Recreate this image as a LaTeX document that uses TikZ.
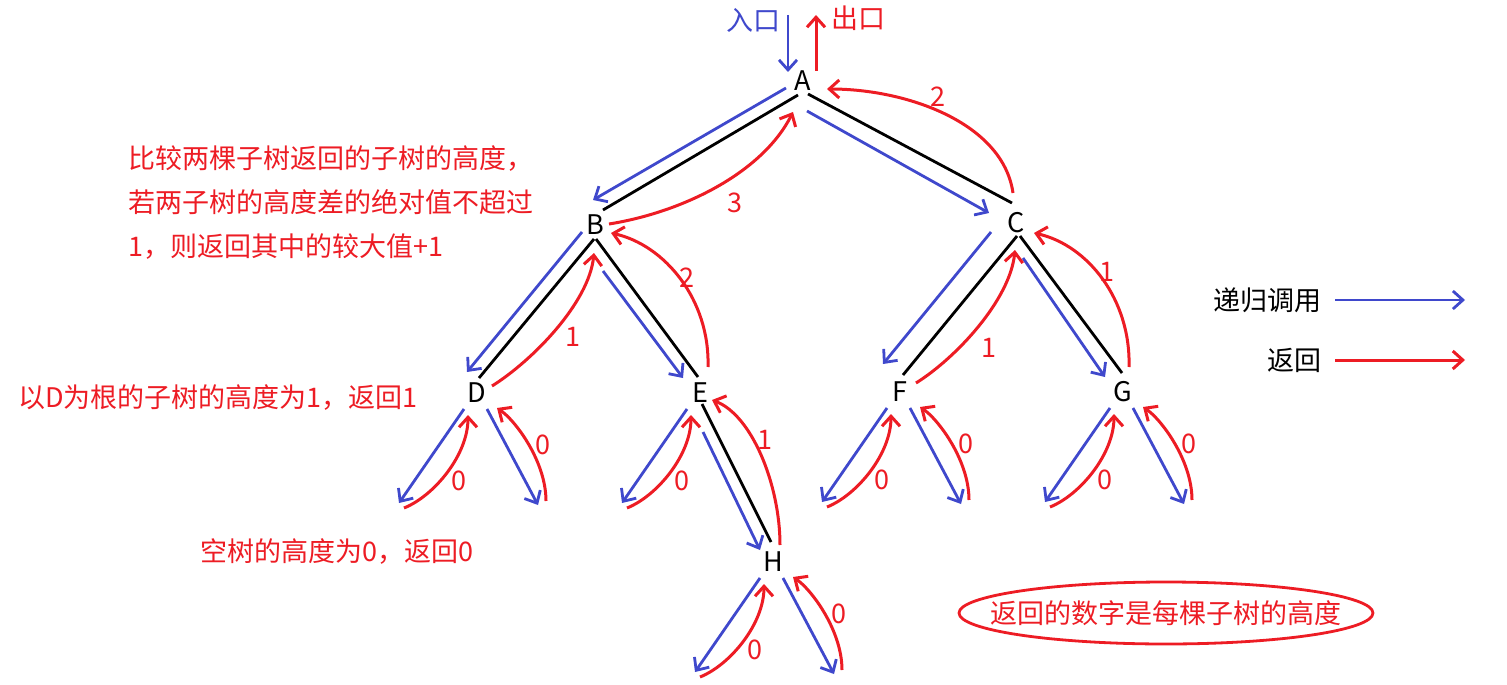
\documentclass[tikz,border=0pt]{standalone}
\usepackage{fontspec}
\setmainfont{Noto Sans CJK SC}
\usepackage{tikz}
\usetikzlibrary{arrows.meta,shapes.geometric}
\definecolor{CallBlue}{HTML}{3F48CC}
\definecolor{RetRed}{HTML}{ED1C24}

\tikzset{
  vert/.style={inner sep=0pt, font=\fontsize{27}{30}\selectfont},
  edge/.style={draw=black, line width=2.8pt},
  call/.style={draw=CallBlue, line width=2.8pt, -{Straight Barb[length=10pt,width=18pt]}},
  ret/.style={draw=RetRed, line width=3pt, -{Straight Barb[length=10pt,width=18pt]}},
  num/.style={inner sep=0pt, text=RetRed, font=\fontsize{27}{30}\selectfont},
  note/.style={inner sep=0pt, text=RetRed, font=\fontsize{27}{44}\selectfont, align=left}
}

\begin{document}
\begin{tikzpicture}[x=1pt,y=-1pt]
  \useasboundingbox (0,0) rectangle (1507,685);

  % tree nodes
  \node[vert] (A) at (803,81) {A};
  \node[vert] (B) at (595,225) {B};
  \node[vert] (C) at (1016,223) {C};
  \node[vert] (D) at (477,393) {D};
  \node[vert] (E) at (700,393) {E};
  \node[vert] (F) at (900,392) {F};
  \node[vert] (G) at (1123,392) {G};
  \node[vert] (H) at (773,562) {H};

  % tree edges
  \draw[edge] ([shift={(-5,14)}]A.center) -- ([shift={(8,-15)}]B.center);
  \draw[edge] ([shift={(5,13)}]A.center) -- ([shift={(-4,-20)}]C.center);
  \draw[edge] ([shift={(-1,14)}]B.center) -- ([shift={(2,-15)}]D.center);
  \draw[edge] ([shift={(1,14)}]B.center) -- ([shift={(-2,-16)}]E.center);
  \draw[edge] ([shift={(1,13)}]C.center) -- ([shift={(3,-17)}]F.center);
  \draw[edge] ([shift={(4,13)}]C.center) -- ([shift={(-1,-19)}]G.center);
  \draw[edge] ([shift={(2,11)}]E.center) -- ([shift={(-2,-20)}]H.center);

  % entry and exit
  \coordinate (in) at (788,15);
  \coordinate (out) at (816,15);
  \node[inner sep=0pt, text=CallBlue, font=\fontsize{27}{30}\selectfont] (inlab) at (753,20) {入口};
  \node[inner sep=0pt, text=RetRed, font=\fontsize{27}{30}\selectfont] (outlab) at (858,18) {出口};
  \draw[call] (in) -- ([shift={(-15,-9)}]A.center);
  \draw[ret] ([shift={(13,-10)}]A.center) -- (out);

  % recursive calls
  \draw[call] ([shift={(-17,7)}]A.center) -- ([shift={(-2,-25)}]B.center);
  \draw[call] ([shift={(4,30)}]A.center) -- ([shift={(-27,-10)}]C.center);
  \draw[call] ([shift={(-13,7)}]B.center) -- ([shift={(-10,-21)}]D.center);
  \draw[call] ([shift={(8,46)}]B.center) -- ([shift={(-17,-15)}]E.center);
  \draw[call] ([shift={(-25,9)}]C.center) -- ([shift={(-17,-28)}]F.center);
  \draw[call] ([shift={(7,35)}]C.center) -- ([shift={(-18,-15)}]G.center);
  \draw[call] ([shift={(3,39)}]E.center) -- ([shift={(-13,-12)}]H.center);

  % returns
  \draw[ret] ([shift={(14,-1)}]B.center) .. controls +(75,-12) and +(-30,60) .. ([shift={(-10,31)}]A.center);
  \draw[ret] ([shift={(-3,-30)}]C.center) .. controls +(-10,-70) and +(80,0) .. ([shift={(24,8)}]A.center);
  \draw[ret] ([shift={(15,-7)}]D.center) .. controls +(40,-25) and +(-5,50) .. ([shift={(-1,28)}]B.center);
  \draw[ret] ([shift={(8,-26)}]E.center) .. controls +(2,-67) and +(54,12) .. ([shift={(16,8)}]B.center);
  \draw[ret] ([shift={(16,-9)}]F.center) .. controls +(40,-25) and +(-5,50) .. ([shift={(-1,27)}]C.center);
  \draw[ret] ([shift={(6,-25)}]G.center) .. controls +(2,-67) and +(54,12) .. ([shift={(18,10)}]C.center);
  \draw[ret] ([shift={(7,-17)}]H.center) .. controls +(0,-60) and +(40,15) .. ([shift={(12,7)}]E.center);

  \node[num] (hAB) at (735,203) {3};
  \node[num] (hAC) at (938,97) {2};
  \node[num] (hBD) at (573,337) {1};
  \node[num] (hBE) at (687,278) {2};
  \node[num] (hCF) at (989,348) {1};
  \node[num] (hCG) at (1107,272) {1};
  \node[num] (hEH) at (765,440) {1};

  % empty subtrees
  \foreach \n in {D,E,F,G,H}{
    \coordinate (\n l) at ([shift={(-76,112)}]\n.center);
    \draw[call] ([shift={(-13,16)}]\n.center) -- ([shift={(-2,-2)}]\n l);
    \draw[ret] ([shift={(3,3)}]\n l) .. controls +(30,-12) and +(0,40) .. ([shift={(-9,22)}]\n.center);
    \node[num] (\n l0) at ([shift={(-18,88)}]\n.center) {0};
  }
  \foreach \n in {D,F,G,H}{
    \coordinate (\n r) at ([shift={(65,110)}]\n.center);
    \draw[call] ([shift={(10,16)}]\n.center) -- ([shift={(-4,2)}]\n r);
    \draw[ret] ([shift={(4,-2)}]\n r) .. controls +(0,-40) and +(18,12) .. ([shift={(20,15)}]\n.center);
    \node[num] (\n r0) at ([shift={(66,52)}]\n.center) {0};
  }

  % notes
  \node[note, anchor=west] (rule) at (128,203) {比较两棵子树返回的子树的高度，\\若两子树的高度差的绝对值不超过\\1，则返回其中的较大值+1};
  \node[note, anchor=west] (dnote) at (18,398) {以D为根的子树的高度为1，返回1};
  \node[note, anchor=west] (nullnote) at (200,552) {空树的高度为0，返回0};
  \node[note, align=center] (key) at (1166,613) {返回的数字是每棵子树的高度};
  \draw[draw=RetRed, line width=2.8pt] (key.center) ellipse (207pt and 31pt);

  % legend
  \node[vert, anchor=east] (lgcall) at (1322,300) {递归调用};
  \node[vert, anchor=east] (lgret) at (1322,360) {返回};
  \coordinate (lgcallend) at (1465,300);
  \coordinate (lgretend) at (1465,360);
  \draw[call] ([xshift=13pt]lgcall.east) -- (lgcallend);
  \draw[ret] ([xshift=13pt]lgret.east) -- (lgretend);
\end{tikzpicture}
\end{document}
